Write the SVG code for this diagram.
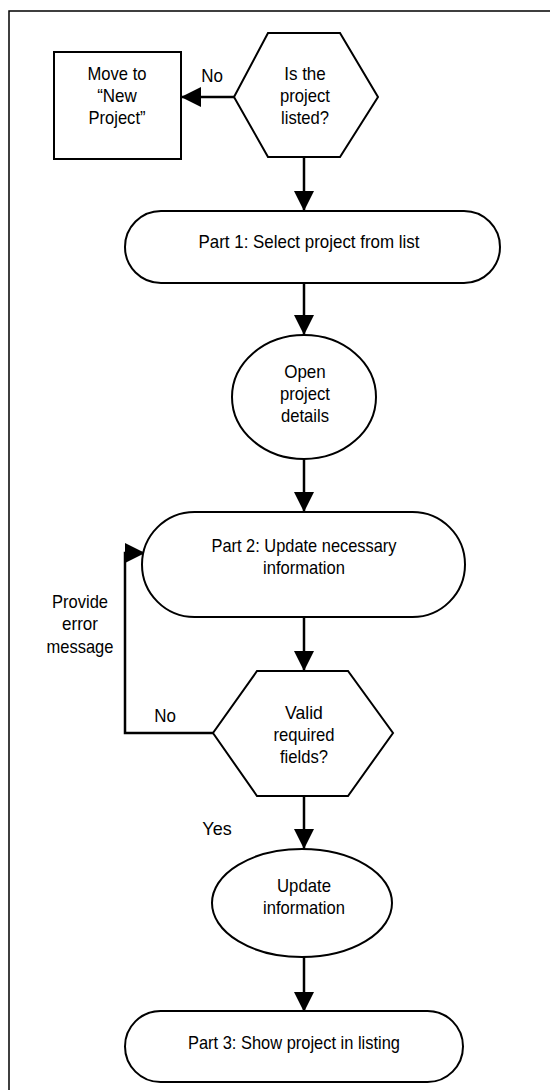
<svg xmlns="http://www.w3.org/2000/svg" width="550" height="1090" viewBox="0 0 550 1090">
<defs>
<marker id="arrow" viewBox="0 0 20 20" refX="20" refY="10" markerWidth="20" markerHeight="20" markerUnits="userSpaceOnUse" orient="auto"><path d="M0,0 L20,10 L0,20 Z" fill="#000"/></marker>
</defs>
<style>
.shape{fill:#fff;stroke:#000;stroke-width:2}
.conn{fill:none;stroke:#000;stroke-width:2.5;marker-end:url(#arrow)}
text{font-family:"Liberation Sans",Arial,sans-serif;font-size:19px;fill:#000;text-anchor:middle}
</style>
<rect width="550" height="1090" fill="#fff"/>
<path id="frame" d="M9,1095 V11 H555" fill="none" stroke="#000" stroke-width="1.5"/>
<g id="connectors">
<path class="conn" d="M234,97 H181"/>
<path class="conn" d="M304,156 V211"/>
<path class="conn" d="M304,283 V335"/>
<path class="conn" d="M304,460 V512"/>
<path class="conn" d="M304,617 V671"/>
<path class="conn" d="M213,733 H125 V553 H145"/>
<path class="conn" d="M304,797 V849"/>
<path class="conn" d="M304,957 V1012"/>
<text x="212" y="82" textLength="21.7" lengthAdjust="spacingAndGlyphs">No</text>
<text x="165" y="722" textLength="21.7" lengthAdjust="spacingAndGlyphs">No</text>
<text x="217" y="835" textLength="29.3" lengthAdjust="spacingAndGlyphs">Yes</text>
<text x="80" y="608" textLength="56" lengthAdjust="spacingAndGlyphs">Provide</text>
<text x="80" y="630" textLength="35.9" lengthAdjust="spacingAndGlyphs">error</text>
<text x="80" y="653" textLength="67" lengthAdjust="spacingAndGlyphs">message</text>
</g>
<g id="move-new-project">
<rect class="shape" x="54" y="52" width="127" height="107"/>
<text x="117" y="80" textLength="59" lengthAdjust="spacingAndGlyphs">Move to</text>
<text x="117" y="102" textLength="39.7" lengthAdjust="spacingAndGlyphs">“New</text>
<text x="117" y="124" textLength="57" lengthAdjust="spacingAndGlyphs">Project”</text>
</g>
<g id="is-listed">
<polygon class="shape" points="268,33 340,33 378,97 340,157 268,157 234,97"/>
<text x="305" y="80" textLength="41.6" lengthAdjust="spacingAndGlyphs">Is the</text>
<text x="305" y="102" textLength="50" lengthAdjust="spacingAndGlyphs">project</text>
<text x="305" y="124" textLength="48" lengthAdjust="spacingAndGlyphs">listed?</text>
</g>
<g id="part1">
<rect class="shape" x="125" y="211" width="375" height="72" rx="36"/>
<text x="309" y="248" textLength="221" lengthAdjust="spacingAndGlyphs">Part 1: Select project from list</text>
</g>
<g id="open-details">
<ellipse class="shape" cx="304" cy="397" rx="72" ry="62"/>
<text x="305" y="378" textLength="41.6" lengthAdjust="spacingAndGlyphs">Open</text>
<text x="305" y="400" textLength="50" lengthAdjust="spacingAndGlyphs">project</text>
<text x="305" y="422" textLength="48" lengthAdjust="spacingAndGlyphs">details</text>
</g>
<g id="part2">
<rect class="shape" x="142" y="512" width="323" height="105" rx="52.5"/>
<text x="304" y="552" textLength="185" lengthAdjust="spacingAndGlyphs">Part 2: Update necessary</text>
<text x="304" y="574" textLength="82" lengthAdjust="spacingAndGlyphs">information</text>
</g>
<g id="valid-fields">
<polygon class="shape" points="257,671 348,671 393,733 348,796 257,796 213,733"/>
<text x="304" y="719" textLength="37.8" lengthAdjust="spacingAndGlyphs">Valid</text>
<text x="304" y="741" textLength="61" lengthAdjust="spacingAndGlyphs">required</text>
<text x="304" y="763" textLength="48" lengthAdjust="spacingAndGlyphs">fields?</text>
</g>
<g id="update-info">
<ellipse class="shape" cx="302" cy="903" rx="90" ry="54"/>
<text x="304" y="892" textLength="54" lengthAdjust="spacingAndGlyphs">Update</text>
<text x="304" y="914" textLength="82" lengthAdjust="spacingAndGlyphs">information</text>
</g>
<g id="part3">
<rect class="shape" x="125" y="1011" width="338" height="71" rx="35.5"/>
<text x="294" y="1049" textLength="212" lengthAdjust="spacingAndGlyphs">Part 3: Show project in listing</text>
</g>
</svg>
